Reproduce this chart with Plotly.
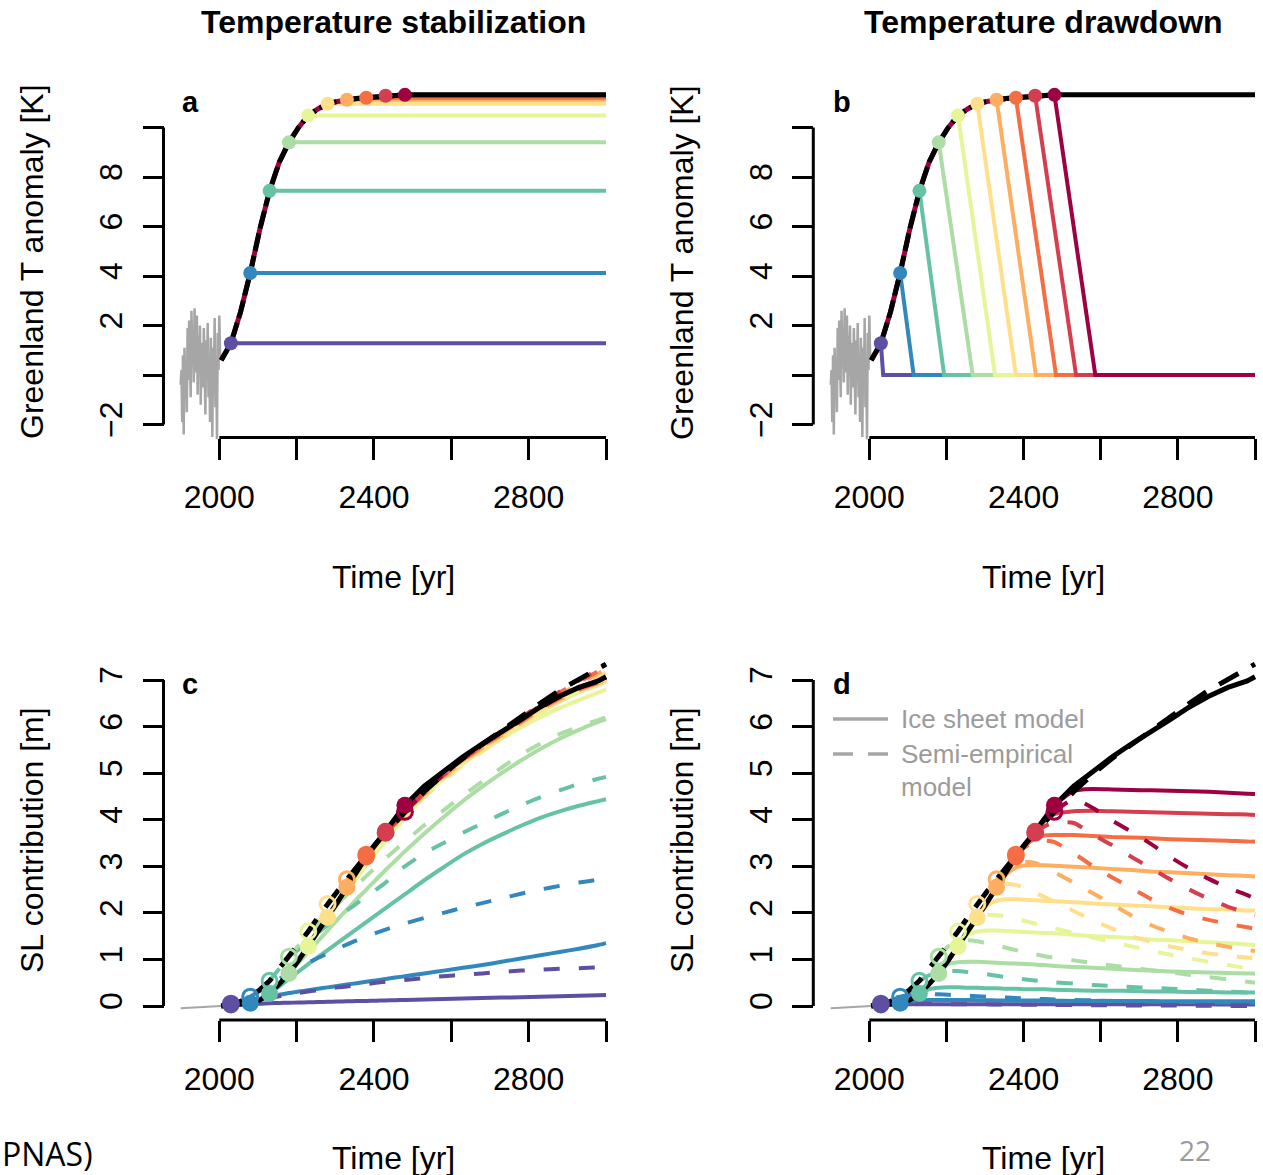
import plotly.graph_objects as go

# ---------------------------------------------------------------- data ----
# Spectral palette, one colour per warming scenario (weakest -> strongest)
PAL = ['#5E4FA2', '#3288BD', '#66C2A5', '#ABDDA4', '#E6F598',
       '#FEE08B', '#FDAE61', '#F46D43', '#D53E4F', '#9E0142']

# year at which each scenario stops following the warming path
SCEN_START = [2030, 2080, 2130, 2180, 2230, 2280, 2330, 2380, 2430, 2480]
# Greenland temperature anomaly reached at that year [K]
TEMP_AT_START = [1.28, 4.12, 7.44, 9.4, 10.48, 10.96, 11.12, 11.2, 11.28, 11.32]
# year at which the drawdown scenarios are back at zero anomaly
DRAWDOWN_END = [2036, 2115, 2194, 2268, 2326, 2380, 2432, 2484, 2536, 2586]

# reference warming path [K]
TEMP_YEARS = [2005, 2030, 2055, 2080, 2105, 2130, 2155, 2180, 2205, 2230, 2255,
              2280, 2305, 2330, 2355, 2380, 2405, 2430, 2455, 2480, 3000]
TEMP_VALUES = [0.6, 1.28, 2.55, 4.12, 5.9, 7.44, 8.6, 9.4, 10.0, 10.48, 10.75,
               10.96, 11.05, 11.12, 11.17, 11.2, 11.24, 11.28, 11.3, 11.32, 11.32]

# observed temperature anomaly, 1900-2004 (every second year) [K]
HIST_YEARS = list(range(1900, 2006, 2))
HIST_T = [-0.4, 0.2, -1.9, 0.8, -2.4, 1.1, -0.6, 0.3, -1.5, 1.9,
          -0.2, 2.2, 0.6, -0.9, 2.6, 0.9, 1.8, -0.3, 2.7, 1.2,
          0.1, 2.4, -0.8, 1.6, 0.4, 2.0, -1.2, 1.3, 0.7, -0.5,
          1.9, 0.2, -1.6, 1.4, -0.1, 2.1, -0.9, 0.8, -1.9, 1.5,
          0.3, -2.5, 1.1, -0.4, 2.3, -1.3, 0.6, -2.6, 1.7, 0.2,
          2.4, 0.9, 0.6]

# historical sea-level contribution [m]
SL_HIST_YEARS = [1900, 1950, 2005]
SL_HIST = [-0.05, -0.03, 0.0]

# common time axis of the sea-level runs; scenario i starts at SL_YEARS[2*i]
SL_YEARS = [2030, 2055, 2080, 2105, 2130, 2155, 2180, 2205, 2230, 2255,
            2280, 2305, 2330, 2355, 2380, 2405, 2430, 2455, 2480, 2530,
            2580, 2630, 2680, 2730, 2780, 2830, 2880, 2930, 2980, 3000]

# reference (full warming) sea-level contribution [m], on [2005] + SL_YEARS
REF_SL_YEARS = [2005] + SL_YEARS
REF_ICE = [0.0, 0.02, 0.03, 0.06, 0.13, 0.27, 0.47, 0.7, 0.98, 1.28, 1.58,
           1.9, 2.22, 2.55, 2.88, 3.2, 3.48, 3.75, 4.04, 4.31, 4.72,
           5.05, 5.35, 5.63, 5.88, 6.15, 6.42, 6.65, 6.84, 6.98, 7.07]
REF_SEMI = [0.0, 0.05, 0.1, 0.2, 0.35, 0.54, 0.8, 1.06, 1.33, 1.6, 1.9,
            2.19, 2.46, 2.72, 2.99, 3.25, 3.49, 3.72, 3.95, 4.17, 4.6,
            4.98, 5.32, 5.62, 5.92, 6.22, 6.5, 6.78, 7.02, 7.25, 7.34]

# temperature stabilization: ice sheet model [m]
STAB_ICE = [
    [0.02, 0.03, 0.04, 0.05, 0.06, 0.065, 0.07, 0.075, 0.08, 0.085, 0.09, 0.095, 0.1, 0.105, 0.11,
     0.115, 0.12, 0.125, 0.13, 0.14, 0.15, 0.16, 0.17, 0.18, 0.19, 0.2, 0.21, 0.22, 0.23, 0.235],
    [0.06, 0.13, 0.19, 0.24, 0.28, 0.31, 0.34, 0.37, 0.4, 0.43, 0.46, 0.49, 0.52, 0.55,
     0.58, 0.61, 0.64, 0.7, 0.76, 0.82, 0.88, 0.95, 1.02, 1.09, 1.16, 1.23, 1.31, 1.35],
    [0.27, 0.42, 0.58, 0.74, 0.9, 1.05, 1.2, 1.35, 1.5, 1.65, 1.8, 1.95, 2.1,
     2.25, 2.4, 2.7, 2.98, 3.25, 3.48, 3.68, 3.87, 4.04, 4.18, 4.3, 4.4, 4.44],
    [0.7, 0.93, 1.16, 1.39, 1.62, 1.85, 2.07, 2.29, 2.5, 2.71, 2.92, 3.12,
     3.32, 3.7, 4.06, 4.4, 4.71, 5.0, 5.27, 5.52, 5.74, 5.93, 6.1, 6.16],
    [1.28, 1.57, 1.87, 2.16, 2.45, 2.74, 3.02, 3.29, 3.55, 3.8, 4.05,
     4.5, 4.88, 5.2, 5.48, 5.74, 5.98, 6.2, 6.4, 6.57, 6.73, 6.8],
    [1.9, 2.2, 2.52, 2.84, 3.15, 3.42, 3.68, 3.96, 4.22, 4.62,
     4.94, 5.24, 5.52, 5.77, 6.04, 6.31, 6.54, 6.74, 6.89, 6.97],
    [2.55, 2.87, 3.18, 3.45, 3.71, 3.99, 4.25, 4.65, 4.98,
     5.28, 5.56, 5.81, 6.08, 6.35, 6.58, 6.78, 6.93, 7.01],
    [3.2, 3.47, 3.73, 4.01, 4.27, 4.68, 5.01, 5.31,
     5.59, 5.84, 6.11, 6.38, 6.61, 6.8, 6.95, 7.03],
    [3.75, 4.03, 4.29, 4.7, 5.03, 5.33, 5.61,
     5.86, 6.13, 6.4, 6.63, 6.82, 6.96, 7.05],
    [4.31, 4.71, 5.04, 5.34, 5.62, 5.87,
     6.14, 6.41, 6.64, 6.83, 6.97, 7.06],
]
# temperature stabilization: semi-empirical model [m]
STAB_SEMI = [
    [0.05, 0.07, 0.1, 0.14, 0.18, 0.21, 0.25, 0.28, 0.31, 0.34, 0.37, 0.4, 0.42, 0.45, 0.47,
     0.5, 0.52, 0.54, 0.56, 0.6, 0.64, 0.67, 0.7, 0.73, 0.76, 0.78, 0.8, 0.81, 0.83, 0.84],
    [0.2, 0.33, 0.46, 0.58, 0.7, 0.82, 0.93, 1.03, 1.13, 1.23, 1.32, 1.41, 1.49, 1.57,
     1.64, 1.71, 1.77, 1.89, 2.0, 2.11, 2.21, 2.31, 2.41, 2.5, 2.58, 2.65, 2.71, 2.73],
    [0.54, 0.8, 1.02, 1.22, 1.4, 1.57, 1.74, 1.9, 2.05, 2.2, 2.35, 2.5, 2.65,
     2.85, 3.0, 3.28, 3.5, 3.72, 3.92, 4.12, 4.31, 4.48, 4.63, 4.77, 4.88, 4.92],
    [1.06, 1.3, 1.53, 1.75, 1.97, 2.18, 2.39, 2.59, 2.79, 2.98, 3.17, 3.35,
     3.53, 3.88, 4.2, 4.52, 4.82, 5.12, 5.4, 5.63, 5.84, 6.0, 6.14, 6.2],
    [1.6, 1.88, 2.16, 2.43, 2.69, 2.95, 3.2, 3.43, 3.65, 3.87, 4.08,
     4.48, 4.84, 5.17, 5.46, 5.74, 6.02, 6.28, 6.53, 6.75, 6.95, 7.02],
    [2.19, 2.45, 2.7, 2.96, 3.21, 3.44, 3.66, 3.88, 4.09, 4.5,
     4.87, 5.2, 5.49, 5.78, 6.07, 6.34, 6.61, 6.84, 7.06, 7.15],
    [2.72, 2.98, 3.24, 3.47, 3.69, 3.91, 4.12, 4.54, 4.91,
     5.25, 5.54, 5.84, 6.13, 6.41, 6.68, 6.92, 7.14, 7.23],
    [3.25, 3.48, 3.71, 3.93, 4.15, 4.57, 4.95, 5.28,
     5.58, 5.88, 6.17, 6.45, 6.73, 6.96, 7.19, 7.28],
    [3.72, 3.94, 4.16, 4.58, 4.96, 5.3, 5.6,
     5.9, 6.19, 6.47, 6.75, 6.99, 7.22, 7.31],
    [4.17, 4.59, 4.97, 5.31, 5.61, 5.91,
     6.21, 6.49, 6.77, 7.01, 7.24, 7.33],
]
# temperature drawdown: ice sheet model [m]
DRAW_ICE = [
    [0.02, 0.03, 0.035, 0.04, 0.04, 0.04, 0.04, 0.04, 0.04, 0.04, 0.04, 0.04, 0.04, 0.04, 0.04,
     0.04, 0.04, 0.04, 0.04, 0.04, 0.04, 0.04, 0.035, 0.035, 0.035, 0.035, 0.035, 0.03, 0.03, 0.03],
    [0.06, 0.1, 0.12, 0.13, 0.13, 0.13, 0.13, 0.13, 0.125, 0.125, 0.12, 0.12, 0.12, 0.12,
     0.12, 0.115, 0.115, 0.11, 0.11, 0.11, 0.105, 0.105, 0.1, 0.1, 0.1, 0.1, 0.1, 0.1],
    [0.27, 0.36, 0.39, 0.4, 0.4, 0.39, 0.39, 0.38, 0.38, 0.37, 0.37, 0.36, 0.36,
     0.36, 0.35, 0.34, 0.33, 0.33, 0.32, 0.31, 0.31, 0.3, 0.3, 0.29, 0.29, 0.29],
    [0.7, 0.9, 0.94, 0.95, 0.95, 0.94, 0.93, 0.92, 0.91, 0.9, 0.89, 0.88,
     0.86, 0.84, 0.82, 0.8, 0.78, 0.76, 0.74, 0.73, 0.72, 0.71, 0.7, 0.7],
    [1.28, 1.52, 1.6, 1.62, 1.62, 1.61, 1.6, 1.59, 1.58, 1.57, 1.56,
     1.53, 1.5, 1.48, 1.46, 1.43, 1.41, 1.39, 1.37, 1.35, 1.32, 1.31],
    [1.9, 2.15, 2.26, 2.29, 2.29, 2.28, 2.27, 2.26, 2.25, 2.23,
     2.2, 2.18, 2.16, 2.14, 2.12, 2.1, 2.08, 2.07, 2.05, 2.05],
    [2.55, 2.82, 2.97, 3.02, 3.03, 3.02, 3.01, 2.99, 2.97,
     2.94, 2.92, 2.89, 2.87, 2.85, 2.83, 2.81, 2.79, 2.78],
    [3.2, 3.45, 3.6, 3.66, 3.67, 3.67, 3.65, 3.63,
     3.62, 3.6, 3.58, 3.57, 3.56, 3.55, 3.53, 3.53],
    [3.75, 3.98, 4.12, 4.18, 4.19, 4.18, 4.17,
     4.16, 4.15, 4.14, 4.13, 4.12, 4.11, 4.1],
    [4.31, 4.62, 4.66, 4.65, 4.64, 4.63,
     4.62, 4.61, 4.6, 4.58, 4.56, 4.55],
]
# temperature drawdown: semi-empirical model [m]
DRAW_SEMI = [
    [0.05, 0.05, 0.05, 0.05, 0.05, 0.045, 0.045, 0.04, 0.04, 0.04, 0.035, 0.035, 0.03, 0.03, 0.03,
     0.025, 0.025, 0.02, 0.02, 0.02, 0.015, 0.015, 0.01, 0.01, 0.01, 0.005, 0.005, 0.0, 0.0, 0.0],
    [0.2, 0.24, 0.26, 0.26, 0.25, 0.24, 0.23, 0.22, 0.21, 0.2, 0.19, 0.18, 0.17, 0.16,
     0.155, 0.15, 0.14, 0.13, 0.12, 0.11, 0.1, 0.095, 0.09, 0.085, 0.08, 0.075, 0.07, 0.07],
    [0.54, 0.66, 0.73, 0.75, 0.75, 0.73, 0.71, 0.68, 0.65, 0.62, 0.6, 0.57, 0.55,
     0.53, 0.51, 0.48, 0.45, 0.43, 0.41, 0.39, 0.37, 0.35, 0.33, 0.31, 0.29, 0.29],
    [1.06, 1.28, 1.38, 1.41, 1.39, 1.35, 1.3, 1.25, 1.2, 1.15, 1.11, 1.07,
     1.04, 0.98, 0.92, 0.87, 0.82, 0.77, 0.72, 0.67, 0.62, 0.57, 0.52, 0.5],
    [1.6, 1.82, 1.93, 1.96, 1.95, 1.92, 1.87, 1.82, 1.77, 1.72, 1.67,
     1.57, 1.47, 1.37, 1.28, 1.19, 1.1, 1.02, 0.95, 0.88, 0.81, 0.78],
    [2.19, 2.42, 2.57, 2.62, 2.6, 2.52, 2.43, 2.34, 2.24, 2.04,
     1.84, 1.66, 1.5, 1.38, 1.28, 1.2, 1.13, 1.08, 1.04, 1.03],
    [2.72, 2.95, 3.07, 3.1, 3.07, 2.98, 2.87, 2.65, 2.42,
     2.18, 1.94, 1.74, 1.58, 1.45, 1.35, 1.27, 1.2, 1.18],
    [3.25, 3.42, 3.52, 3.55, 3.52, 3.28, 3.0, 2.76,
     2.53, 2.3, 2.1, 1.95, 1.85, 1.76, 1.69, 1.66],
    [3.72, 3.86, 3.94, 3.93, 3.68, 3.45, 3.2,
     2.96, 2.72, 2.5, 2.3, 2.13, 2.0, 1.96],
    [4.17, 4.44, 4.25, 3.98, 3.74, 3.48,
     3.2, 2.95, 2.73, 2.54, 2.38, 2.3],
]

X_TICKS = [2000, 2200, 2400, 2600, 2800, 3000]
X_TICK_TEXT = ['2000', '', '2400', '', '2800', '']
T_TICKS = [-2, 0, 2, 4, 6, 8, 10]
T_TICK_TEXT = ['\u22122', '', '2', '4', '6', '8', '']
SL_TICKS = [0, 1, 2, 3, 4, 5, 6, 7]
SL_TICK_TEXT = ['0', '1', '2', '3', '4', '5', '6', '7']

# ------------------------------------------------------------- layout ----
W, H = 1263, 1175
FONT = 'Liberation Sans, Arial, Helvetica, sans-serif'
GRAY = '#A6A6A6'
DASH = '16px,19px'
BLACK_DASH = '22px,15px'


def fx(p):
    return p / W


def fy(p):
    return 1 - p / H


def lin(p, v0, p0, v1, p1):
    return v0 + (p - p0) * (v1 - v0) / (p1 - p0)


# pixel frame of each panel: calibration points, domain, offset axis positions
PANELS = {
    'a': dict(ax='', x0=219.3, x1=606.0, yv=(0, 10), yp=(375.0, 127.5),
              dx=(170, 618), dy=(78, 450), xline=437.5, yline=163.5,
              ticks=T_TICKS, ticktext=T_TICK_TEXT),
    'b': dict(ax='2', x0=869.3, x1=1255.0, yv=(0, 10), yp=(375.0, 127.5),
              dx=(820, 1262), dy=(78, 450), xline=437.5, yline=813.3,
              ticks=T_TICKS, ticktext=T_TICK_TEXT),
    'c': dict(ax='3', x0=219.3, x1=606.0, yv=(0, 7), yp=(1006.0, 680.0),
              dx=(170, 618), dy=(650, 1016), xline=1020.0, yline=163.5,
              ticks=SL_TICKS, ticktext=SL_TICK_TEXT),
    'd': dict(ax='4', x0=869.3, x1=1255.0, yv=(0, 7), yp=(1006.0, 680.0),
              dx=(820, 1262), dy=(650, 1016), xline=1020.0, yline=813.3,
              ticks=SL_TICKS, ticktext=SL_TICK_TEXT),
}

fig = go.Figure()
layout = dict(width=W, height=H, margin=dict(l=0, r=0, t=0, b=0),
              paper_bgcolor='white', plot_bgcolor='white', showlegend=False,
              font=dict(family=FONT, color='black'))
shapes = []
annotations = []

for key, p in PANELS.items():
    xr = [lin(p['dx'][0], 2000, p['x0'], 3000, p['x1']),
          lin(p['dx'][1], 2000, p['x0'], 3000, p['x1'])]
    yr = [lin(p['dy'][1], p['yv'][0], p['yp'][0], p['yv'][1], p['yp'][1]),
          lin(p['dy'][0], p['yv'][0], p['yp'][0], p['yv'][1], p['yp'][1])]
    xname, yname = 'xaxis' + p['ax'], 'yaxis' + p['ax']
    xid, yid = 'x' + p['ax'], 'y' + p['ax']
    layout[xname] = dict(domain=[fx(p['dx'][0]), fx(p['dx'][1])], range=xr,
                         anchor='free', position=fy(p['xline']),
                         showgrid=False, zeroline=False, showline=False,
                         ticks='outside', ticklen=21, tickwidth=3, tickcolor='black',
                         tickvals=X_TICKS, ticktext=X_TICK_TEXT,
                         tickfont=dict(size=32, family=FONT), ticklabelstandoff=10)
    layout[yname] = dict(domain=[fy(p['dy'][1]), fy(p['dy'][0])], range=yr,
                         anchor='free', position=fx(p['yline']),
                         showgrid=False, zeroline=False, showline=False,
                         ticks='outside', ticklen=21, tickwidth=3, tickcolor='black',
                         tickvals=p['ticks'], ticktext=p['ticktext'], tickangle=-90,
                         tickfont=dict(size=32, family=FONT), ticklabelstandoff=8)
    # axis lines spanning only first to last tick
    shapes.append(dict(type='line', xref=xid, yref='paper', x0=2000, x1=3000,
                       y0=fy(p['xline']), y1=fy(p['xline']),
                       line=dict(color='black', width=3)))
    shapes.append(dict(type='line', xref='paper', yref=yid,
                       x0=fx(p['yline']), x1=fx(p['yline']),
                       y0=p['ticks'][0], y1=p['ticks'][-1],
                       line=dict(color='black', width=3)))
    p['xid'], p['yid'] = xid, yid


def add_line(panel, x, y, color, width, dash=None, shape='linear'):
    p = PANELS[panel]
    fig.add_trace(go.Scatter(x=x, y=y, mode='lines', xaxis=p['xid'], yaxis=p['yid'],
                             line=dict(color=color, width=width, dash=dash, shape=shape,
                                       smoothing=0.6 if shape == 'spline' else None),
                             hoverinfo='skip'))


def add_dots(panel, x, y, colors, size, open_=False):
    p = PANELS[panel]
    if open_:
        marker = dict(symbol='circle-open', size=size, color=colors, line=dict(width=3, color=colors))
    else:
        marker = dict(symbol='circle', size=size, color=colors, line=dict(width=0))
    fig.add_trace(go.Scatter(x=x, y=y, mode='markers', xaxis=p['xid'], yaxis=p['yid'],
                             marker=marker, cliponaxis=False, hoverinfo='skip'))


n_path = TEMP_YEARS.index(2480) + 1

# ---- panels a and b: temperature scenarios
for panel in ('a', 'b'):
    add_line(panel, HIST_YEARS, HIST_T, GRAY, 2.5)
    for i, col in enumerate(PAL):
        if panel == 'a':
            add_line(panel, [SCEN_START[i], 3000], [TEMP_AT_START[i]] * 2, col, 4)
        else:
            add_line(panel, [SCEN_START[i], DRAWDOWN_END[i], 3000],
                     [TEMP_AT_START[i], 0, 0], col, 4)
    add_line(panel, TEMP_YEARS[:n_path], TEMP_VALUES[:n_path], PAL[-1], 5)
    add_line(panel, TEMP_YEARS[:n_path], TEMP_VALUES[:n_path], 'black', 5, dash='18px,5px')
    add_line(panel, TEMP_YEARS[n_path - 1:], TEMP_VALUES[n_path - 1:], 'black', 5)
    add_dots(panel, SCEN_START, TEMP_AT_START, PAL, 14)

# ---- panels c and d: sea-level contribution
for panel, ice, semi in (('c', STAB_ICE, STAB_SEMI), ('d', DRAW_ICE, DRAW_SEMI)):
    add_line(panel, SL_HIST_YEARS, SL_HIST, GRAY, 2)
    for i, col in enumerate(PAL):
        add_line(panel, SL_YEARS[-len(ice[i]):], ice[i], col, 4, shape='spline')
    for i, col in enumerate(PAL):
        add_line(panel, SL_YEARS[-len(semi[i]):], semi[i], col, 4, dash=DASH, shape='spline')
    add_line(panel, REF_SL_YEARS, REF_ICE, 'black', 5)
    add_line(panel, REF_SL_YEARS, REF_SEMI, 'black', 5, dash=BLACK_DASH)
    add_dots(panel, SCEN_START, [s[0] for s in ice], PAL, 17)
    add_dots(panel, SCEN_START, [s[0] for s in semi], PAL, 15, open_=True)

# ---- legend of panel d
shapes.append(dict(type='line', xref='paper', yref='paper', x0=fx(833), x1=fx(888),
                   y0=fy(719), y1=fy(719), line=dict(color=GRAY, width=3.5)))
shapes.append(dict(type='line', xref='paper', yref='paper', x0=fx(833), x1=fx(892),
                   y0=fy(754), y1=fy(754), line=dict(color=GRAY, width=3.5, dash='20px,15px')))
for txt, ypx in (('Ice sheet model', 719), ('Semi-empirical', 754), ('model', 787)):
    annotations.append(dict(text=txt, x=fx(899), y=fy(ypx), xref='paper', yref='paper',
                            xanchor='left', yanchor='middle', showarrow=False,
                            font=dict(size=26, color='#9B9B9B', family=FONT)))


def note(text, xp, yp, size, angle=0, bold=False, color='black', xanchor='center', family=FONT):
    annotations.append(dict(text='<b>%s</b>' % text if bold else text,
                            x=fx(xp), y=fy(yp), xref='paper', yref='paper',
                            xanchor=xanchor, yanchor='middle', showarrow=False,
                            textangle=angle, font=dict(size=size, color=color, family=family)))


note('Temperature stabilization', 393, 22, 32, bold=True)
note('Temperature drawdown', 1043, 22, 32, bold=True)
for letter, xp, yp in (('a', 190, 102), ('b', 842, 102), ('c', 190, 684), ('d', 842, 684)):
    note(letter, xp, yp, 29, bold=True)
note('Greenland T anomaly [K]', 32, 262, 32, angle=-90)
note('Greenland T anomaly [K]', 682, 262, 32, angle=-90)
note('SL contribution [m]', 32, 840, 32, angle=-90)
note('SL contribution [m]', 682, 840, 32, angle=-90)
for xp, yp in ((393, 577), (1043, 577), (393, 1158), (1043, 1158)):
    note('Time [yr]', xp, yp, 32)
note('PNAS)', 0, 1153, 32, xanchor='left', family='Open Sans, Liberation Sans, sans-serif')
note('22', 1195, 1150, 28, color='#9B9B9B', family='Open Sans, Liberation Sans, sans-serif')

layout['shapes'] = shapes
layout['annotations'] = annotations
fig.update_layout(**layout)
fig.write_html('out.html')
